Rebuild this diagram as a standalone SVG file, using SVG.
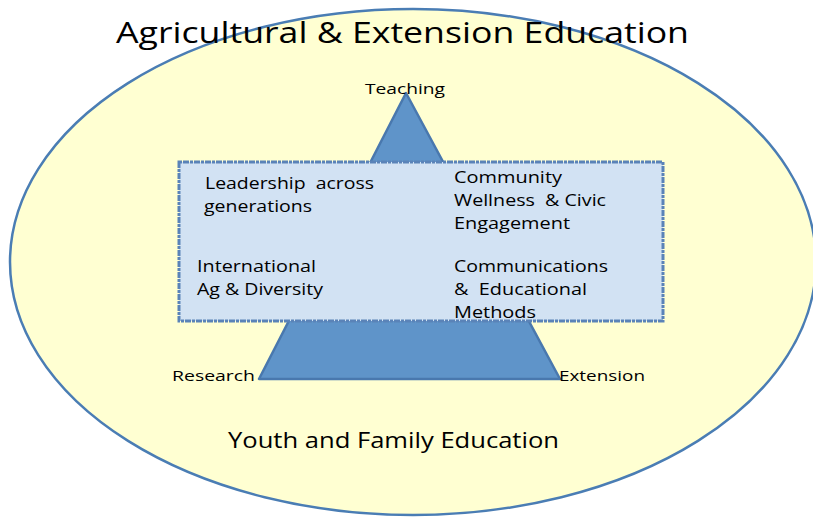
<svg xmlns="http://www.w3.org/2000/svg" width="813" height="517" viewBox="0 0 813 517">
<style>
text{font-family:"Open Sans","Noto Sans","Liberation Sans",sans-serif;fill:#000}
.s{font-size:15px}
.b{font-size:15.5px}
</style>
<rect width="813" height="517" fill="#ffffff"/>
<g id="ellipse">
<ellipse cx="413" cy="262" rx="403" ry="253" fill="#FFFFD2" stroke="#4A7DB4" stroke-width="2.5"/>
</g>
<g id="triangle">
<polygon points="406,93 259,379 560,379" fill="#5F94C9" stroke="#4978AE" stroke-width="2.5" stroke-linejoin="round"/>
</g>
<g id="box">
<rect x="179" y="162" width="484" height="159" fill="#D2E2F3" stroke="#5A83B8" stroke-width="3" stroke-dasharray="3,1,6,1"/>
<text class="b" x="205" y="189" xml:space="preserve" textLength="169" lengthAdjust="spacingAndGlyphs">Leadership  across</text>
<text class="b" x="204" y="212" textLength="108" lengthAdjust="spacingAndGlyphs">generations</text>
<text class="b" x="454" y="183" textLength="108" lengthAdjust="spacingAndGlyphs">Community</text>
<text class="b" x="454" y="206" xml:space="preserve" textLength="152" lengthAdjust="spacingAndGlyphs">Wellness  &amp; Civic</text>
<text class="b" x="454" y="229" textLength="116" lengthAdjust="spacingAndGlyphs">Engagement</text>
<text class="b" x="197" y="272" textLength="119" lengthAdjust="spacingAndGlyphs">International</text>
<text class="b" x="197" y="295" textLength="126" lengthAdjust="spacingAndGlyphs">Ag &amp; Diversity</text>
<text class="b" x="454" y="272" textLength="154" lengthAdjust="spacingAndGlyphs">Communications</text>
<text class="b" x="454" y="295" xml:space="preserve" textLength="133" lengthAdjust="spacingAndGlyphs">&amp;  Educational</text>
<text class="b" x="454" y="318" textLength="82" lengthAdjust="spacingAndGlyphs">Methods</text>
</g>
<g id="labels">
<text x="116" y="43" font-size="30" textLength="573" lengthAdjust="spacingAndGlyphs">Agricultural &amp; Extension Education</text>
<text class="s" x="365" y="94" textLength="80" lengthAdjust="spacingAndGlyphs">Teaching</text>
<text class="s" x="172" y="381" textLength="83" lengthAdjust="spacingAndGlyphs">Research</text>
<text class="s" x="559" y="381" textLength="86" lengthAdjust="spacingAndGlyphs">Extension</text>
<text x="228" y="448" font-size="21" textLength="331" lengthAdjust="spacingAndGlyphs">Youth and Family Education</text>
</g>
</svg>
